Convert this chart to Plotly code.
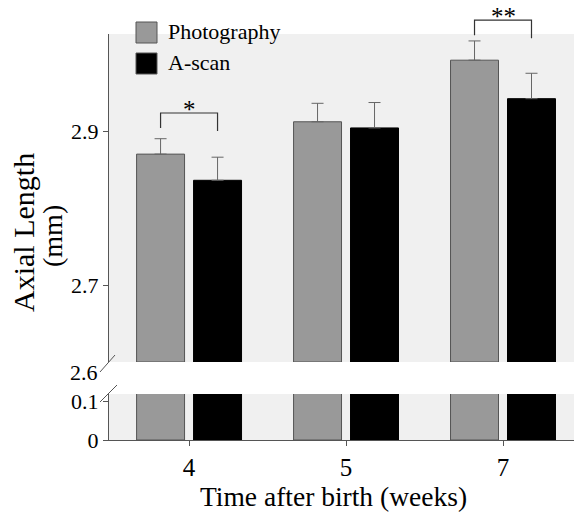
import plotly.graph_objects as go

# ---- data ----
weeks = ["4", "5", "7"]
photo_mean = [2.870, 2.912, 2.992]
photo_err = [0.020, 0.024, 0.025]
ascan_mean = [2.836, 2.904, 2.942]
ascan_err = [0.030, 0.033, 0.033]
series_names = ["Photography", "A-scan"]
upper_ticks = [2.7, 2.9]
lower_ticks = [0, 0.1]
sig_brackets = [("4", 2.9234, "*"), ("7", 3.044, "**")]

# ---- layout constants ----
OFF = 8  # page body margin
W, H = 582 - OFF, 518 - OFF
L, R, T, B = 109 - OFF, 6, 34 - OFF, 78
pw, ph = W - L - R, H - T - B
up_lo, up_hi = 2.6, 3.026
lo_lo, lo_hi = 0.0, 0.118
dom_lo = [0, 46 / ph]
dom_up = [78 / ph, 1]
xr = [-0.51, 2.465]
bargap, groupgap = 0.274, 0.158
FONT = "Liberation Serif"
GREY, BLACK, EDGE, BG = "#999999", "#000000", "#555555", "#f0f0f0"


def px(x):
    return (x - OFF - L) / pw


def py(y):
    return (T + ph - (y - OFF)) / ph


def xd2p(v):
    return (v - xr[0]) / (xr[1] - xr[0])


def yup2p(v):
    return dom_up[0] + (v - up_lo) / (up_hi - up_lo) * (dom_up[1] - dom_up[0])


fig = go.Figure()
for name, means, errs, col, edge in [
    (series_names[0], photo_mean, photo_err, GREY, EDGE),
    (series_names[1], ascan_mean, ascan_err, BLACK, BLACK),
]:
    fig.add_trace(go.Bar(
        x=weeks, y=[m - up_lo for m in means], base=up_lo, name=name,
        marker=dict(color=col, line=dict(color=edge, width=1)),
        error_y=dict(type="data", array=errs, arrayminus=[0] * len(errs),
                     symmetric=False, color="#666666", thickness=1, width=6),
        xaxis="x", yaxis="y2", showlegend=False))
for name, means, col, edge in [
    (series_names[0], photo_mean, GREY, EDGE),
    (series_names[1], ascan_mean, BLACK, BLACK),
]:
    fig.add_trace(go.Bar(
        x=weeks, y=means, name=name,
        marker=dict(color=col, line=dict(color=edge, width=1)),
        xaxis="x", yaxis="y", showlegend=False))

shapes = []
# panel backgrounds
for yref in ["y domain", "y2 domain"]:
    shapes.append(dict(type="rect", xref="paper", yref=yref, x0=0, x1=1, y0=0, y1=1,
                       fillcolor=BG, line=dict(width=0), layer="below"))
# break marks
shapes.append(dict(type="line", xref="paper", yref="paper", x0=px(100), y0=py(372),
                   x1=px(115), y1=py(355), line=dict(color=EDGE, width=1)))
shapes.append(dict(type="line", xref="paper", yref="paper", x0=px(100), y0=py(402),
                   x1=px(117), y1=py(385), line=dict(color=EDGE, width=1)))
# legend swatches
for i, col in enumerate([GREY, BLACK]):
    y0 = 22 + 31 * i
    shapes.append(dict(type="rect", xref="paper", yref="paper", x0=px(136), x1=px(157),
                       y0=py(y0), y1=py(y0 + 21), fillcolor=col,
                       line=dict(color=EDGE, width=1)))

annotations = []
for i, name in enumerate(series_names):
    annotations.append(dict(text=name, xref="paper", yref="paper", x=px(166), y=py(32 + 31 * i),
                            xanchor="left", yanchor="middle", showarrow=False,
                            font=dict(family=FONT, size=22, color="black")))

# significance brackets
off = (1 - bargap) / 4
legdrop = [15 / ph, 18 / ph]
for wk, ylev, label in sig_brackets:
    idx = weeks.index(wk)
    xa, xb = xd2p(idx - off), xd2p(idx + off)
    yl = yup2p(ylev)
    shapes.append(dict(type="path", xref="paper", yref="paper",
                       path=f"M {xa},{yl - legdrop[0]} L {xa},{yl} L {xb},{yl} L {xb},{yl - legdrop[1]}",
                       line=dict(color="#333333", width=1.2)))
    annotations.append(dict(text=label, xref="paper", yref="paper", x=(xa + xb) / 2, y=yl,
                            xanchor="center", yanchor="bottom", yshift=-12, showarrow=False,
                            font=dict(family=FONT, size=25, color="black")))

# 2.6 label at the break
annotations.append(dict(text="2.6", xref="paper", yref="y2", x=0, y=up_lo, xanchor="right",
                        yanchor="middle", xshift=-9, yshift=-10, showarrow=False,
                        font=dict(family=FONT, size=22, color="black")))
# axis titles
annotations.append(dict(text="Axial Length", xref="paper", yref="paper", x=px(23), y=py(233),
                        textangle=-90, xanchor="center", yanchor="middle", showarrow=False,
                        font=dict(family=FONT, size=30, color="black")))
annotations.append(dict(text="(mm)", xref="paper", yref="paper", x=px(53), y=py(236),
                        textangle=-90, xanchor="center", yanchor="middle", showarrow=False,
                        font=dict(family=FONT, size=28, color="black")))
annotations.append(dict(text="Time after birth (weeks)", xref="paper", yref="paper", x=px(333.5),
                        y=py(497), xanchor="center", yanchor="middle", showarrow=False,
                        font=dict(family=FONT, size=27.5, color="black")))

fig.update_layout(
    width=W, height=H, margin=dict(l=L, r=R, t=T, b=B, pad=0),
    paper_bgcolor="white", plot_bgcolor="white",
    barmode="group", bargap=bargap, bargroupgap=groupgap,
    font=dict(family=FONT, color="black"),
    shapes=shapes, annotations=annotations, showlegend=False,
    xaxis=dict(type="category", categoryorder="array", categoryarray=weeks, range=xr,
               anchor="y", showline=True, linecolor=EDGE, linewidth=1, ticks="outside",
               ticklen=5, tickcolor=EDGE, showgrid=False, zeroline=False,
               tickfont=dict(family=FONT, size=25, color="black")),
    yaxis=dict(domain=dom_lo, range=[lo_lo, lo_hi], anchor="x", showline=True, linecolor=EDGE,
               ticks="outside", ticklen=5, tickcolor=EDGE, tickvals=lower_ticks,
               ticktext=[str(v) for v in lower_ticks], showgrid=False, zeroline=False,
               tickfont=dict(family=FONT, size=22, color="black")),
    yaxis2=dict(domain=dom_up, range=[up_lo, up_hi], anchor="x", showline=True, linecolor=EDGE,
                ticks="outside", ticklen=5, tickcolor=EDGE, tickvals=upper_ticks,
                ticktext=[str(v) for v in upper_ticks], showgrid=False, zeroline=False,
                tickfont=dict(family=FONT, size=22, color="black")),
)

fig.write_html("out.html")
